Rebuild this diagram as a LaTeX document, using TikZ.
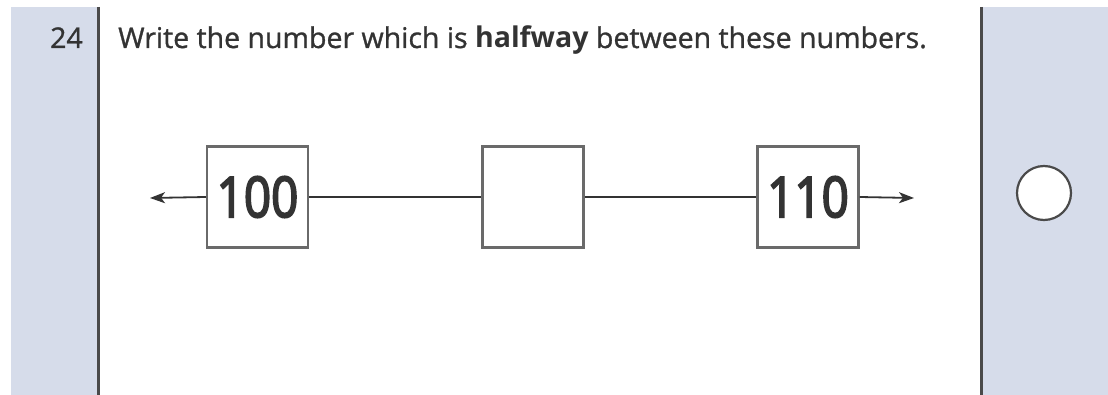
\documentclass[tikz,border=0pt]{standalone}
\usepackage{fontspec}
\setmainfont{Open Sans}
\newfontfamily\numfont[FakeBold=3.5]{Open Sans}
\newfontfamily\qfont[FakeBold=1]{Open Sans}
\usetikzlibrary{arrows.meta}
\definecolor{panel}{HTML}{D6DCEA}
\definecolor{rule}{HTML}{4A4A4A}
\definecolor{ink}{HTML}{333333}
\definecolor{boxline}{HTML}{6A6A6A}
\begin{document}
\begin{tikzpicture}[x=1pt,y=-1pt,
  panelbox/.style={fill=panel,draw=none},
  panelrule/.style={draw=rule,line width=3pt},
  numbox/.style={draw=boxline,line width=2.2pt,minimum width=101pt,minimum height=101pt,inner sep=0pt,font=\numfont\fontsize{56}{60}\selectfont,text=ink},
  conn/.style={draw=black!80,line width=1.8pt},
  arr/.style={conn,-{Stealth[length=15pt,width=11pt,inset=4pt]}},
  marking/.style={draw=rule,line width=2.2pt,fill=white}]
\useasboundingbox (0,0) rectangle (1108,395);
\fill[white] (0,0) rectangle (1108,395);
\path[panelbox] (11,7) rectangle (97,395);
\path[panelbox] (981,7) rectangle (1108,395);
\draw[panelrule] (98,7) -- (98,395);
\draw[panelrule] (981,7) -- (981,395);
\node[anchor=base east,text=ink,inner sep=0pt,font=\qfont\fontsize{28.5}{34}\selectfont] (qn) at (83,48) {24};
\node[anchor=base west,text=ink,inner sep=0pt,font=\qfont\fontsize{28.5}{34}\selectfont] (q) at (118,48) {Write the number which is {\fontspec{Open Sans}\bfseries halfway} between these numbers.};
\node[numbox] (a) at (257.5,197) {\scalebox{0.85}[1]{100}};
\node[numbox] (b) at (533,197) {};
\node[numbox] (c) at (808,197) {\scalebox{0.85}[1]{110}};
\coordinate (l) at (150,198);
\coordinate (r) at (914,198);
\draw[arr] (a.west) -- (l);
\draw[conn] (a.east) -- (b.west);
\draw[conn] (b.east) -- (c.west);
\draw[arr] (c.east) -- (r);
\node[marking,circle,minimum size=54pt,inner sep=0pt] (m) at (1044,193) {};
\end{tikzpicture}
\end{document}
